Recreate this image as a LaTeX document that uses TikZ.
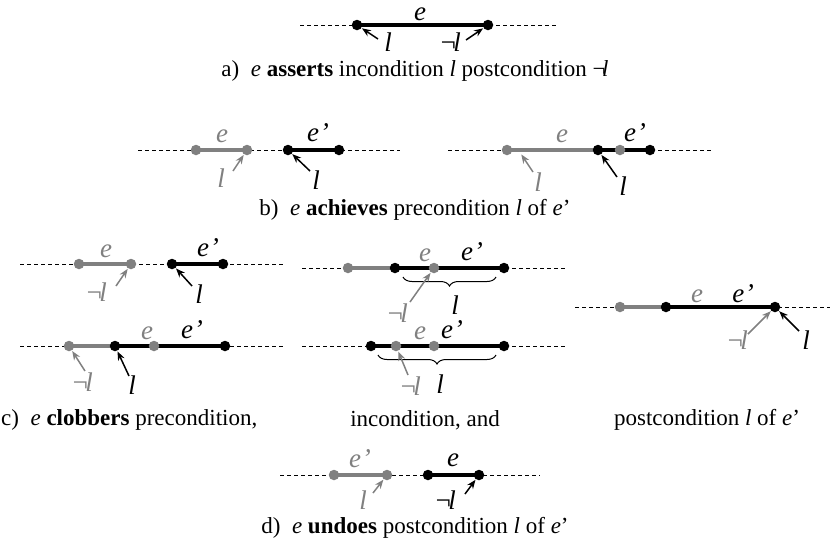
\documentclass[tikz,border=0pt]{standalone}
\usepackage{fontspec}
\setmainfont{Liberation Serif}
\usetikzlibrary{arrows.meta,decorations.pathreplacing}
\definecolor{lg}{RGB}{128,128,128}
\pgfdeclarelayer{bg}
\pgfsetlayers{bg,main}
\newcommand{\negl}{¬\kern-0.15em\textit{l}}
\newcommand{\eprm}{e\kern0.02em’}
\begin{document}
\begin{tikzpicture}[x=1pt,y=-1pt,
 txt/.style={font=\fontsize{23}{27}\selectfont, inner sep=0pt},
 lab/.style={font=\fontsize{27}{30}\selectfont\itshape, inner sep=0pt},
 dotb/.style={circle,fill=black,inner sep=0pt,minimum size=10.5pt},
 dotg/.style={circle,fill=lg,inner sep=0pt,minimum size=10.5pt},
 tl/.style={dash pattern=on 4pt off 3pt, line width=0.8pt},
 barb/.style={line width=3.2pt},
 barg/.style={line width=3.2pt, lg},
 arb/.style={-{Stealth[length=9pt,width=7pt]}, line width=1.5pt, shorten >=0.5pt},
 arg/.style={arb, lg},
 brc/.style={decorate, decoration={brace, mirror, amplitude=9pt}, line width=1pt}
]
\useasboundingbox (0,0) rectangle (830,550);

% ---------- a)
\coordinate (aL) at (300,25); \coordinate (aR) at (556,25);
\node[dotb] (a1) at (357,25) {};
\node[dotb] (a2) at (488,25) {};
\node[lab] (ae) at (420,14) {e};
\node[lab] (al) at (388,42) {l};
\node[lab] (anl) at (450,42) {\negl};
\coordinate (alt) at (378,39); \coordinate (anlt) at (466,40);
\draw[arb] (alt) -- (a1);
\draw[arb] (anlt) -- (a2);
\begin{pgfonlayer}{bg}
\draw[tl] (aL) -- (aR);
\draw[barb] (a1.center) -- (a2.center);
\end{pgfonlayer}
\node[txt] (capa) at (415,71) {a)\ \ \textit{e} \textbf{asserts} incondition \textit{l} postcondition \negl};

% ---------- b) left
\coordinate (bL) at (138,150); \coordinate (bR) at (400,150);
\node[dotg] (bg1) at (196,150) {};
\node[dotg] (bg2) at (247,150) {};
\node[dotb] (bb1) at (288,150) {};
\node[dotb] (bb2) at (339,150) {};
\node[lab,lg] (be) at (222,136) {e};
\node[lab] (bep) at (318,133) {\eprm};
\node[lab,lg] (bl1) at (221,178) {l};
\node[lab] (bl2) at (316,180) {l};
\coordinate (bt1) at (233,171); \coordinate (bt2) at (310,171);
\draw[arg] (bt1) -- (bg2);
\draw[arb] (bt2) -- (bb1);
\begin{pgfonlayer}{bg}
\draw[tl] (bL) -- (bR);
\draw[barg] (bg1.center) -- (bg2.center);
\draw[barb] (bb1.center) -- (bb2.center);
\end{pgfonlayer}

% ---------- b) right
\coordinate (cL) at (448,150); \coordinate (cR) at (712,150);
\node[dotg] (c1) at (507,150) {};
\node[dotb] (c2) at (598,150) {};
\node[dotg] (c3) at (620,150) {};
\node[dotb] (c4) at (650,150) {};
\node[lab,lg] (ce) at (562,136) {e};
\node[lab] (cep) at (635,133) {\eprm};
\node[lab,lg] (cl1) at (538,182) {l};
\node[lab] (cl2) at (623,186) {l};
\coordinate (ct1) at (533,172); \coordinate (cp1) at (521,154);
\coordinate (ct2) at (617,177);
\draw[arg] (ct1) -- (cp1);
\draw[arb] (ct2) -- (c2);
\begin{pgfonlayer}{bg}
\draw[tl] (cL) -- (cR);
\draw[barg] (c1.center) -- (c2.center);
\draw[barb] (c2.center) -- (c4.center);
\end{pgfonlayer}
\node[txt] (capb) at (415,210) {b)\ \ \textit{e} \textbf{achieves} precondition \textit{l} of \textit{e}’};

% ---------- c) top left
\coordinate (dL) at (20,264); \coordinate (dR) at (285,264);
\node[dotg] (d1) at (79,264) {};
\node[dotg] (d2) at (131,264) {};
\node[dotb] (d3) at (172,264) {};
\node[dotb] (d4) at (223,264) {};
\node[lab,lg] (de) at (106,251) {e};
\node[lab] (dep) at (208,248) {\eprm};
\node[lab,lg] (dnl) at (96,292) {\negl};
\node[lab] (dl) at (199,294) {l};
\coordinate (dt1) at (116,286); \coordinate (dt2) at (192,286);
\draw[arg] (dt1) -- (d2);
\draw[arb] (dt2) -- (d3);
\begin{pgfonlayer}{bg}
\draw[tl] (dL) -- (dR);
\draw[barg] (d1.center) -- (d2.center);
\draw[barb] (d3.center) -- (d4.center);
\end{pgfonlayer}

% ---------- c) top middle
\coordinate (fL) at (302,268); \coordinate (fR) at (565,268);
\node[dotg] (f1) at (348,268) {};
\node[dotb] (f2) at (395,268) {};
\node[dotg] (f3) at (434,268) {};
\node[dotb] (f4) at (504,268) {};
\node[lab,lg] (fe) at (425,255) {e};
\node[lab] (fep) at (472,252) {\eprm};
\coordinate (fb1) at (403,277); \coordinate (fb2) at (496,277);
\draw[brc] (fb1) -- (fb2);
\node[lab] (fl) at (455,305) {l};
\node[lab,lg] (fnl) at (397,313) {\negl};
\coordinate (ft1) at (410,302);
\draw[arg] (ft1) -- (f3);
\begin{pgfonlayer}{bg}
\draw[tl] (fL) -- (fR);
\draw[barg] (f1.center) -- (f2.center);
\draw[barb] (f2.center) -- (f4.center);
\end{pgfonlayer}

% ---------- c) bottom left
\coordinate (gL) at (20,346); \coordinate (gR) at (285,346);
\node[dotg] (g1) at (69,346) {};
\node[dotb] (g2) at (115,346) {};
\node[dotg] (g3) at (154,346) {};
\node[dotb] (g4) at (225,346) {};
\node[lab,lg] (ge) at (147,333) {e};
\node[lab] (gep) at (192,330) {\eprm};
\node[lab,lg] (gnl) at (82,382) {\negl};
\node[lab] (gl) at (132,385) {l};
\coordinate (gt1) at (85,371); \coordinate (gt2) at (129,376);
\draw[arg] (gt1) -- (g1);
\draw[arb] (gt2) -- (g2);
\begin{pgfonlayer}{bg}
\draw[tl] (gL) -- (gR);
\draw[barg] (g1.center) -- (g2.center);
\draw[barb] (g2.center) -- (g4.center);
\end{pgfonlayer}

% ---------- c) bottom middle
\coordinate (hL) at (302,346); \coordinate (hR) at (565,346);
\node[dotb] (h1) at (371,346) {};
\node[dotg] (h2) at (396,346) {};
\node[dotg] (h3) at (434,346) {};
\node[dotb] (h4) at (504,346) {};
\node[lab,lg] (he) at (420,333) {e};
\node[lab] (hep) at (452,330) {\eprm};
\coordinate (hb1) at (378,355); \coordinate (hb2) at (496,355);
\draw[brc] (hb1) -- (hb2);
\node[lab] (hl) at (440,384) {l};
\node[lab,lg] (hnl) at (410,386) {\negl};
\coordinate (ht1) at (408,375);
\draw[arg] (ht1) -- (h2);
\begin{pgfonlayer}{bg}
\draw[tl] (hL) -- (hR);
\draw[barb] (h1.center) -- (h4.center);
\end{pgfonlayer}

% ---------- c) right
\coordinate (kL) at (575,307); \coordinate (kR) at (830,307);
\node[dotg] (k1) at (620,307) {};
\node[dotb] (k2) at (666,307) {};
\node[dotb] (k3) at (775,307) {};
\node[lab,lg] (ke) at (697,296) {e};
\node[lab] (kep) at (743,294) {\eprm};
\node[lab,lg] (knl) at (737,340) {\negl};
\node[lab] (kl) at (806,340) {l};
\coordinate (kt1) at (748,334); \coordinate (kt2) at (799,331);
\draw[arg] (kt1) -- (k3);
\draw[arb] (kt2) -- (k3);
\begin{pgfonlayer}{bg}
\draw[tl] (kL) -- (kR);
\draw[barg] (k1.center) -- (k2.center);
\draw[barb] (k2.center) -- (k3.center);
\end{pgfonlayer}

\node[txt, anchor=west] (capc1) at (1,420) {c)\ \ \textit{e} \textbf{clobbers} precondition,};
\node[txt] (capc2) at (425,420) {incondition, and};
\node[txt] (capc3) at (707,420) {postcondition \textit{l} of \textit{e}’};

% ---------- d)
\coordinate (mL) at (280,475); \coordinate (mR) at (540,475);
\node[dotg] (m1) at (334,475) {};
\node[dotg] (m2) at (387,475) {};
\node[dotb] (m3) at (428,475) {};
\node[dotb] (m4) at (479,475) {};
\node[lab,lg] (mep) at (360,459) {\eprm};
\node[lab] (me) at (453,460) {e};
\node[lab,lg] (ml) at (363,500) {l};
\node[lab] (mnl) at (445,500) {\negl};
\coordinate (mt1) at (373,493); \coordinate (mt2) at (465,494);
\draw[arg] (mt1) -- (m2);
\draw[arb] (mt2) -- (m4);
\begin{pgfonlayer}{bg}
\draw[tl] (mL) -- (mR);
\draw[barg] (m1.center) -- (m2.center);
\draw[barb] (m3.center) -- (m4.center);
\end{pgfonlayer}
\node[txt] (capd) at (415,528) {d)\ \ \textit{e} \textbf{undoes} postcondition \textit{l} of \textit{e}’};
\end{tikzpicture}
\end{document}
